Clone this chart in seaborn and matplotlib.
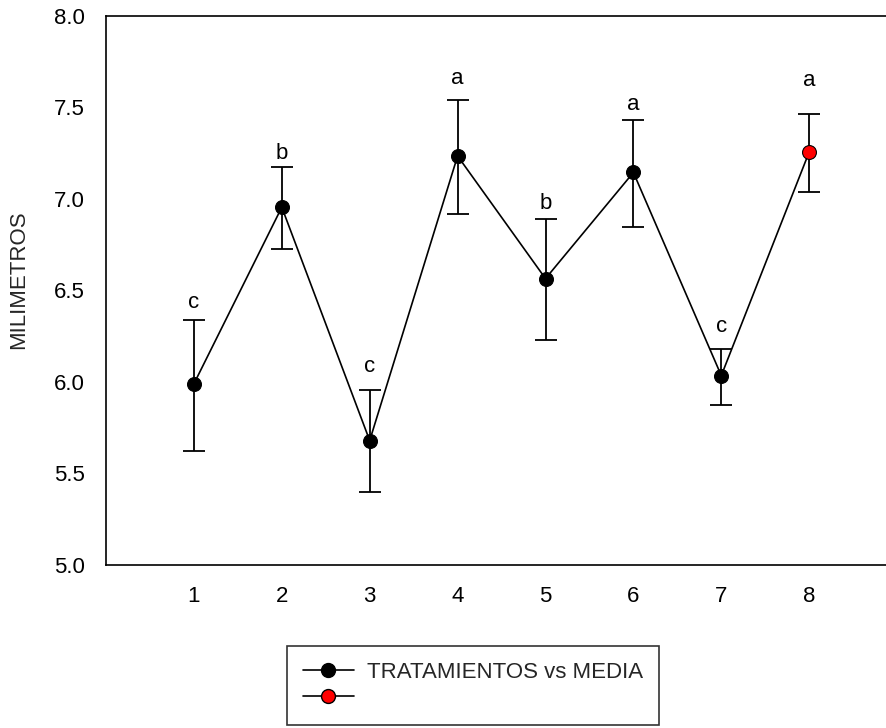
import matplotlib
matplotlib.use("Agg")
import matplotlib.pyplot as plt
import seaborn as sns
import pandas as pd
from matplotlib.lines import Line2D

# ---- data ----
tratamientos = [1, 2, 3, 4, 5, 6, 7, 8]
media = [5.99, 6.955, 5.68, 7.235, 6.565, 7.145, 6.035, 7.257]
limite_sup = [6.34, 7.175, 5.955, 7.541, 6.891, 7.430, 6.180, 7.464]
limite_inf = [5.621, 6.725, 5.401, 6.920, 6.228, 6.849, 5.876, 7.038]
letras = ["c", "b", "c", "a", "b", "a", "c", "a"]
letras_y = [6.402, 7.221, 6.052, 7.631, 6.945, 7.489, 6.273, 7.615]
colores_punto = ["black"] * 7 + ["red"]
y_ticks = [5.0, 5.5, 6.0, 6.5, 7.0, 7.5, 8.0]
x_ticks = tratamientos
etiqueta_y = "MILIMETROS"
etiqueta_leyenda = "TRATAMIENTOS vs MEDIA"

df = pd.DataFrame({"trat": tratamientos, "media": media,
                   "sup": limite_sup, "inf": limite_inf,
                   "letra": letras, "letra_y": letras_y,
                   "color": colores_punto})

sns.set_theme(style="white")
plt.rcParams["font.family"] = ["Liberation Sans", "DejaVu Sans"]

W, H = 886, 728
fig = plt.figure(figsize=(W / 100, H / 100), dpi=100)
ax = fig.add_axes([106 / W, 1 - 565 / H, 1 - 106 / W, (565 - 16) / H])

# error bars
yerr = [df["media"] - df["inf"], df["sup"] - df["media"]]
ax.errorbar(df["trat"], df["media"], yerr=yerr, fmt="none", ecolor="black",
            elinewidth=1.3, capsize=8, capthick=1.3, zorder=2)

# connecting line
sns.lineplot(data=df, x="trat", y="media", color="black", linewidth=1.2,
             ax=ax, zorder=3, legend=False)

# markers
negros = df[df["color"] == "black"]
rojos = df[df["color"] == "red"]
sns.scatterplot(data=negros, x="trat", y="media", color="black", s=100,
                edgecolor="black", linewidth=0.8, ax=ax, zorder=4, legend=False)
sns.scatterplot(data=rojos, x="trat", y="media", color="red", s=100,
                edgecolor="black", linewidth=0.8, ax=ax, zorder=4, legend=False)

# significance letters
for _, r in df.iterrows():
    ax.text(r["trat"], r["letra_y"], r["letra"], ha="center", va="baseline",
            fontsize=16, color="black")

ax.set_xlim(0, (W - 106) / 87.9)
ax.set_ylim(5.0, 8.0)
ax.set_xticks(x_ticks)
ax.set_yticks(y_ticks)
ax.set_yticklabels([f"{v:.1f}" for v in y_ticks])
ax.set_xlabel("")
ax.set_ylabel(etiqueta_y, fontsize=16)
ax.yaxis.set_label_coords(-(106 - 29) / (W - 106), (565 - 280) / (565 - 16))
ax.tick_params(axis="both", direction="out", length=7, width=1.2,
               labelsize=16, colors="black", pad=8)
for s in ["left", "bottom", "top"]:
    ax.spines[s].set_visible(True)
    ax.spines[s].set_color("black")
    ax.spines[s].set_linewidth(1.2)
ax.spines["right"].set_visible(False)

handles = [
    Line2D([], [], color="black", lw=1.2, marker="o", markersize=10,
           markerfacecolor="black", markeredgecolor="black"),
    Line2D([], [], color="black", lw=1.2, marker="o", markersize=10,
           markerfacecolor="red", markeredgecolor="black"),
]
leg = fig.legend(handles, [etiqueta_leyenda, ""], loc="upper left",
                 bbox_to_anchor=(287 / W, 1 - 646 / H), fontsize=16,
                 frameon=True, fancybox=False, edgecolor="black",
                 handlelength=2.3, handletextpad=0.6, labelspacing=0.25,
                 borderpad=0.7, borderaxespad=0)
leg.get_frame().set_linewidth(1.2)

fig.savefig("out.png", dpi=100)
